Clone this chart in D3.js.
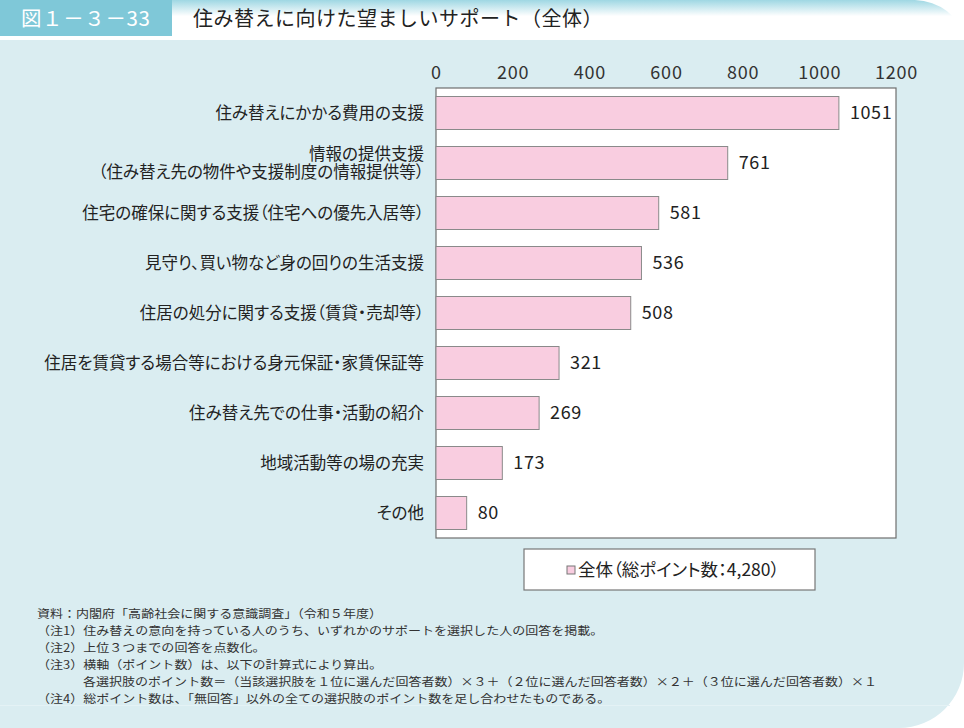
<!DOCTYPE html>
<html><head><meta charset="utf-8">
<script src="https://cdn.jsdelivr.net/npm/d3@7"></script>
<style>body{margin:0;background:#fff} svg{display:block} .p{font-feature-settings:"palt" 1;}</style>
</head><body><svg id="c" width="964" height="728"></svg>
<script>
// ---- data ----
const categories = [
  "住み替えにかかる費用の支援",
  "情報の提供支援\n（住み替え先の物件や支援制度の情報提供等）",
  "住宅の確保に関する支援（住宅への優先入居等）",
  "見守り、買い物など身の回りの生活支援",
  "住居の処分に関する支援（賃貸・売却等）",
  "住居を賃貸する場合等における身元保証・家賃保証等",
  "住み替え先での仕事・活動の紹介",
  "地域活動等の場の充実",
  "その他"
];
const values = [1051, 761, 581, 536, 508, 321, 269, 173, 80];
const xTicks = [0, 200, 400, 600, 800, 1000, 1200];
const seriesName = "全体（総ポイント数：4,280）";
const figNo = "図１－３－33";
const title = "住み替えに向けた望ましいサポート（全体）";
const notes = [
  "資料：内閣府「高齢社会に関する意識調査」（令和５年度）",
  "（注1）住み替えの意向を持っている人のうち、いずれかのサポートを選択した人の回答を掲載。",
  "（注2）上位３つまでの回答を点数化。",
  "（注3）横軸（ポイント数）は、以下の計算式により算出。",
  "各選択肢のポイント数＝（当該選択肢を１位に選んだ回答者数）×３＋（２位に選んだ回答者数）×２＋（３位に選んだ回答者数）×１",
  "（注4）総ポイント数は、「無回答」以外の全ての選択肢のポイント数を足し合わせたものである。"
];
const noteIndent = [0, 0, 0, 0, 1, 0];

// ---- layout ----
const svg = d3.select("#c");
const W = 964, H = 728;
const font = "'Noto Sans CJK JP', 'Noto Sans', sans-serif";
const plot = {l: 436, r: 896, t: 88, b: 538};

const defs = svg.append("defs");
const g1 = defs.append("linearGradient").attr("id", "tg").attr("x1", 0).attr("y1", 0).attr("x2", 0).attr("y2", 1);
g1.append("stop").attr("offset", 0).attr("stop-color", "#9fd7e3");
g1.append("stop").attr("offset", 0.45).attr("stop-color", "#ffffff");
g1.append("stop").attr("offset", 1).attr("stop-color", "#ffffff");

// background panel
svg.append("path")
  .attr("d", `M0,40 H${W} V663 A65,65 0 0 1 899,${H} H0 Z`)
  .attr("fill", "#daedf1");
svg.append("line").attr("x1", 0).attr("x2", 950).attr("y1", 705.5).attr("y2", 705.5)
  .attr("stroke", "#e4f2f5").attr("stroke-width", 1);

// header
svg.append("path")
  .attr("d", `M172,0 H915 A50,40 0 0 1 962,36 H172 Z`)
  .attr("fill", "url(#tg)");
svg.append("rect").attr("x", 0).attr("y", 0).attr("width", 172).attr("height", 36).attr("fill", "#7fc8d8");
svg.append("text").attr("x", 21).attr("y", 19).attr("dy", "0.36em")
  .attr("font-family", font).attr("font-size", 20.5).attr("letter-spacing", 0.6).attr("fill", "#fff").text(figNo);
svg.append("text").attr("x", 193).attr("y", 19).attr("dy", "0.36em")
  .attr("font-family", font).attr("font-size", 20).attr("letter-spacing", 0.5).attr("fill", "#222").text(title);

// scales
const x = d3.scaleLinear().domain([0, 1200]).range([plot.l, plot.r]);
const y = d3.scaleBand().domain(categories).range([plot.t, plot.b]).paddingInner(0.34).paddingOuter(0.17);

// plot frame
svg.append("rect").attr("x", plot.l).attr("y", plot.t)
  .attr("width", plot.r - plot.l).attr("height", plot.b - plot.t)
  .attr("fill", "#fff").attr("stroke", "#6e6e6e").attr("stroke-width", 1.2);

// top axis
const xa = svg.append("g").attr("transform", `translate(0,${plot.t})`)
  .call(d3.axisTop(x).tickValues(xTicks).tickSize(0).tickPadding(9).tickFormat(d3.format("d")));
xa.select(".domain").remove();
xa.selectAll("text").attr("font-family", font).attr("font-size", 18).attr("letter-spacing", 0.8).attr("fill", "#333");

// left axis (category labels)
const ya = svg.append("g").attr("transform", `translate(${plot.l},0)`)
  .call(d3.axisLeft(y).tickSize(0).tickPadding(12));
ya.select(".domain").remove();
ya.selectAll("text").each(function(d) {
  const t = d3.select(this);
  const lines = d.split("\n");
  t.text(null).attr("class", "p").attr("font-family", font).attr("font-size", 16.5).attr("fill", "#222").attr("dy", null);
  const x0 = t.attr("x");
  lines.forEach((ln, i) => {
    t.append("tspan").attr("x", x0)
      .attr("dy", i === 0 ? ((0.34 - (lines.length - 1) * 0.54) + "em") : "1.1em")
      .text(ln);
  });
});

// bars
svg.append("g").selectAll("rect").data(values).join("rect")
  .attr("x", x(0))
  .attr("y", (d, i) => y(categories[i]))
  .attr("width", d => x(d) - x(0))
  .attr("height", y.bandwidth())
  .attr("fill", "#f9cde0").attr("stroke", "#8a8a8a").attr("stroke-width", 1);

// value labels
svg.append("g").selectAll("text").data(values).join("text")
  .attr("x", d => x(d) + 11)
  .attr("y", (d, i) => y(categories[i]) + y.bandwidth() / 2)
  .attr("dy", "0.36em")
  .attr("font-family", font).attr("font-size", 18).attr("letter-spacing", 0.6).attr("fill", "#222")
  .text(d => d);

// legend
const lg = svg.append("g");
lg.append("rect").attr("x", 524).attr("y", 549).attr("width", 291).attr("height", 41)
  .attr("fill", "#fff").attr("stroke", "#777").attr("stroke-width", 1.2);
lg.append("rect").attr("x", 567).attr("y", 566).attr("width", 8).attr("height", 8)
  .attr("fill", "#f9cde0").attr("stroke", "#777");
lg.append("text").attr("class", "p").attr("x", 578).attr("y", 570).attr("dy", "0.36em")
  .attr("font-family", font).attr("font-size", 17.5).attr("fill", "#222").text(seriesName);

// notes
const nt = svg.append("g").selectAll("text").data(notes).join("text")
  .attr("x", (d, i) => noteIndent[i] ? 83 : 37)
  .attr("y", (d, i) => 614 + i * 17)
  .attr("dy", "0.36em")
  .attr("font-family", font).attr("font-size", 11.5).attr("fill", "#333")
  .text(d => d);
// scale widths so the long formula line matches the reference width
const nat = nt.nodes()[4].getComputedTextLength();
const k = (877 - 83) / nat;
nt.each(function() {
  const L = this.getComputedTextLength();
  d3.select(this).attr("textLength", L * k).attr("lengthAdjust", "spacingAndGlyphs");
});
</script></body></html>
